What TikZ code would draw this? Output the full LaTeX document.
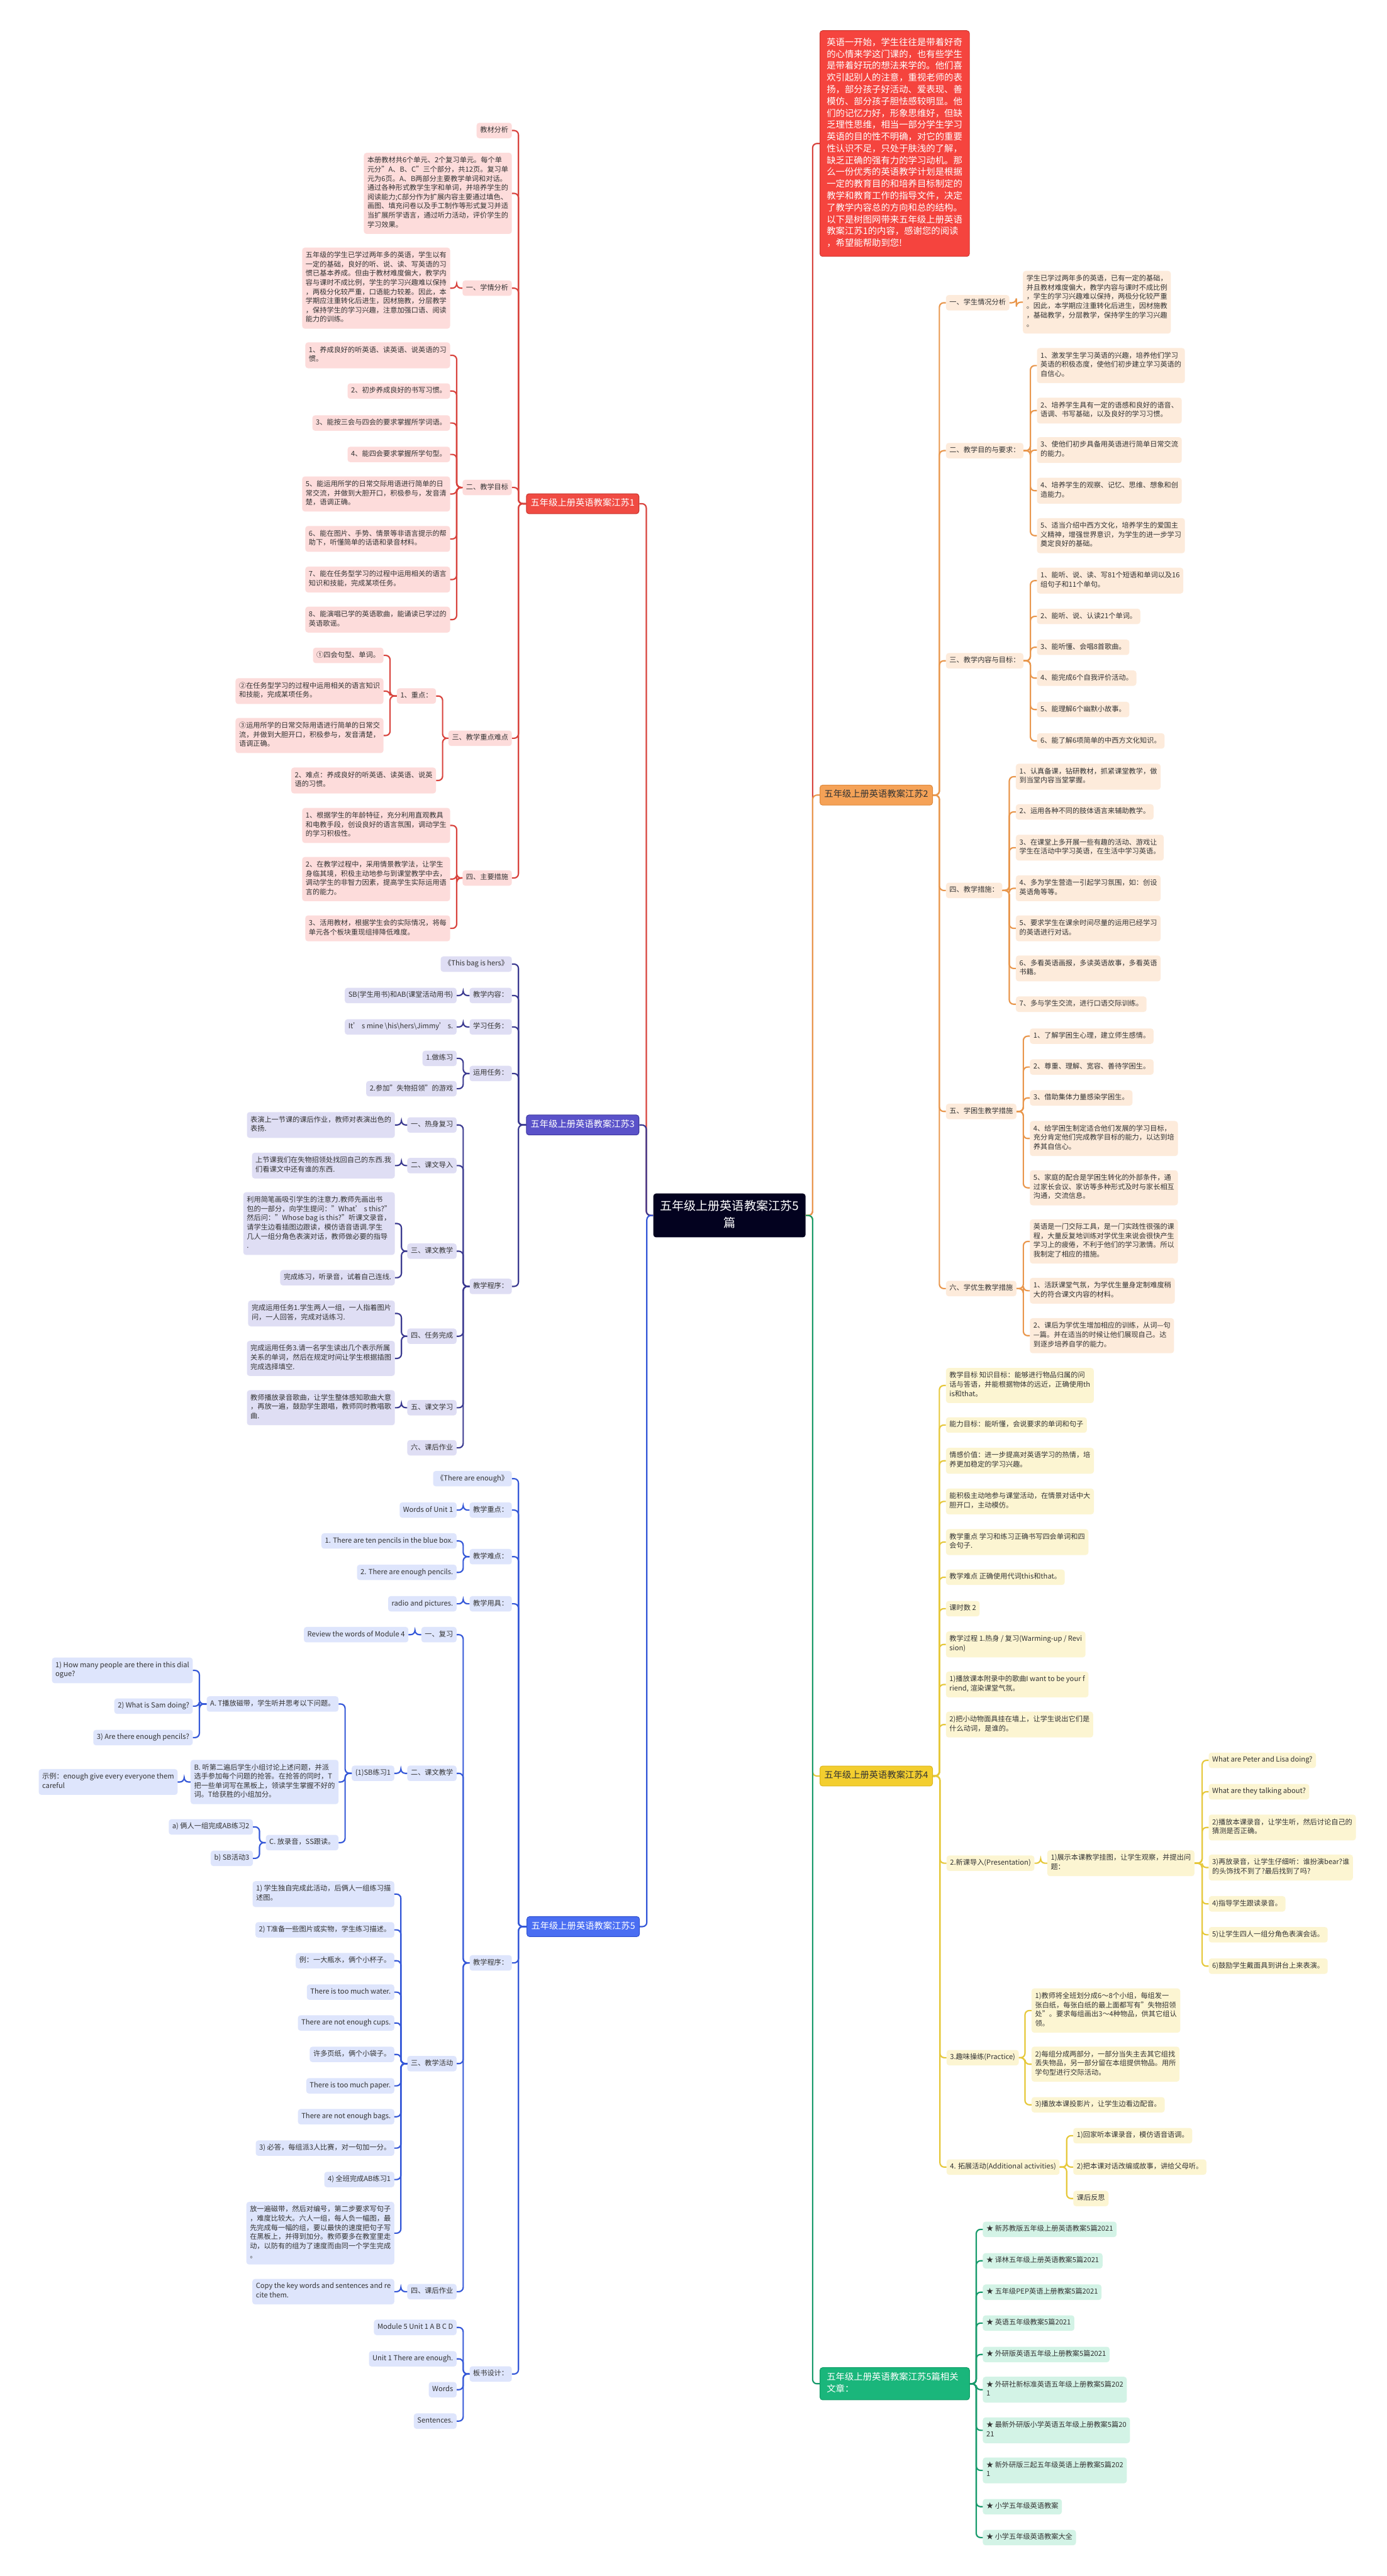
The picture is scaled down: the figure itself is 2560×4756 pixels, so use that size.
\documentclass[tikz,border=0pt]{standalone}
\usepackage{fontspec}
\setmainfont{Noto Sans CJK SC}
\usetikzlibrary{positioning}
\definecolor{hubC}{HTML}{03021F}
\definecolor{ink}{HTML}{333333}
\definecolor{inC}{HTML}{F5443E}
\definecolor{rF}{HTML}{F04B43}
\definecolor{rD}{HTML}{C8352E}
\definecolor{rL}{HTML}{D8433D}
\definecolor{rP}{HTML}{FDDCDB}
\definecolor{pF}{HTML}{5A52C9}
\definecolor{pD}{HTML}{3D36A0}
\definecolor{pL}{HTML}{3A3990}
\definecolor{pP}{HTML}{DFDEF4}
\definecolor{bF}{HTML}{4A6EF2}
\definecolor{bD}{HTML}{3153D0}
\definecolor{bL}{HTML}{3558D8}
\definecolor{bP}{HTML}{DEE5FC}
\definecolor{oF}{HTML}{F5A257}
\definecolor{oD}{HTML}{E08A3C}
\definecolor{oL}{HTML}{E9974D}
\definecolor{oP}{HTML}{FDEBDB}
\definecolor{yF}{HTML}{F3CE2F}
\definecolor{yD}{HTML}{DDB71E}
\definecolor{yL}{HTML}{E6C83A}
\definecolor{yP}{HTML}{FCF5D2}
\definecolor{gF}{HTML}{1AB67B}
\definecolor{gD}{HTML}{139D68}
\definecolor{gL}{HTML}{179A6B}
\definecolor{gP}{HTML}{D3F3E6}
\tikzset{
  leaf/.style={rounded corners=5pt,inner xsep=6.5pt,inner ysep=5.75pt,align=left,
    font=\fontsize{13}{17}\selectfont,text=ink,
    execute at begin node=\strut,execute at end node=\strut},
  tall/.style={inner ysep=7.3pt},
  lfR/.style={leaf,fill=rP}, lfP/.style={leaf,fill=pP}, lfB/.style={leaf,fill=bP},
  lfO/.style={leaf,fill=oP}, lfY/.style={leaf,fill=yP}, lfG/.style={leaf,fill=gP},
  bnode/.style={rounded corners=5pt,inner xsep=8pt,inner ysep=8pt,line width=1.2pt,
    font=\fontsize{16.6}{21}\selectfont,text=white,execute at begin node=\strut},
  hub/.style={rounded corners=5pt,fill=hubC,text=white,text width=258pt,align=center,
    inner xsep=11.5pt,inner ysep=9.8pt,font=\fontsize{22.2}{30.7}\selectfont,
    execute at begin node=\strut,execute at end node=\strut},
  intro/.style={rounded corners=5pt,fill=inC,draw=rD,line width=1pt,text=white,
    text width=251pt,align=left,inner xsep=12.5pt,inner ysep=12.3pt,
    font=\fontsize{16.7}{21.8}\selectfont,
    execute at begin node=\strut,execute at end node=\strut},
  ln/.style={line width=2.5pt,rounded corners=8pt},
}
\begin{document}
\begin{tikzpicture}[x=1pt,y=-1pt]
\useasboundingbox (0,0) rectangle (2560,4756);
\fill[white] (0,0) rectangle (2560,4756);

% centre
\node[hub] (ctr) at (1346.5,2244) {五年级上册英语教案江苏5\\篇};

% ---------------- 江苏1 (left, red)
\node[bnode,fill=rF,draw=rD,anchor=east] (J1) at (1180,930) {五年级上册英语教案江苏1};
\node[lfR,anchor=east] (J1a) at (945,241) {教材分析};
\node[lfR,tall,anchor=east] (J1b) at (945,357) {本册教材共6个单元、2个复习单元。每个单\\元分"A、B、C"三个部分，共12页。复习单\\元为6页。A、B两部分主要教学单词和对话。\\通过各种形式教学生字和单词，并培养学生的\\阅读能力;C部分作为扩展内容主要通过填色、\\画图、填充问卷以及手工制作等形式复习并适\\当扩展所学语言，通过听力活动，评价学生的\\学习效果。};
\node[lfR,anchor=east] (J1c) at (945,532) {一、学情分析};
\node[lfR,tall,anchor=east] (J1c1) at (831,532) {五年级的学生已学过两年多的英语，学生以有\\一定的基础，良好的听、说、读、写英语的习\\惯已基本养成。但由于教材难度偏大，教学内\\容与课时不成比例，学生的学习兴趣难以保持\\，两极分化较严重，口语能力较差。因此，本\\学期应注重转化后进生，因材施教，分层教学\\，保持学生的学习兴趣，注意加强口语、阅读\\能力的训练。};
\node[lfR,anchor=east] (J1d) at (945,900) {二、教学目标};
\node[lfR,tall,anchor=east] (J1d1) at (831,656) {1、养成良好的听英语、读英语、说英语的习\\惯。};
\node[lfR,anchor=east] (J1d2) at (831,722) {2、初步养成良好的书写习惯。};
\node[lfR,anchor=east] (J1d3) at (831,781) {3、能按三会与四会的要求掌握所学词语。};
\node[lfR,anchor=east] (J1d4) at (831,839) {4、能四会要求掌握所学句型。};
\node[lfR,tall,anchor=east] (J1d5) at (831,912) {5、能运用所学的日常交际用语进行简单的日\\常交流，并做到大胆开口，积极参与，发音清\\楚，语调正确。};
\node[lfR,tall,anchor=east] (J1d6) at (831,995) {6、能在图片、手势、情景等非语言提示的帮\\助下，听懂简单的话语和录音材料。};
\node[lfR,tall,anchor=east] (J1d7) at (831,1070) {7、能在任务型学习的过程中运用相关的语言\\知识和技能，完成某项任务。};
\node[lfR,tall,anchor=east] (J1d8) at (831,1144) {8、能演唱已学的英语歌曲，能诵读已学过的\\英语歌谣。};
\node[lfR,anchor=east] (J1e) at (945,1363) {三、教学重点难点};
\node[lfR,anchor=east] (J1e1) at (805,1285) {1、重点：};
\node[lfR,anchor=east] (J1e1a) at (708,1210) {①四会句型、单词。};
\node[lfR,tall,anchor=east] (J1e1b) at (708,1276) {②在任务型学习的过程中运用相关的语言知识\\和技能，完成某项任务。};
\node[lfR,tall,anchor=east] (J1e1c) at (708,1358) {③运用所学的日常交际用语进行简单的日常交\\流，并做到大胆开口，积极参与，发音清楚，\\语调正确。};
\node[lfR,tall,anchor=east] (J1e2) at (805,1441) {2、难点：养成良好的听英语、读英语、说英\\语的习惯。};
\node[lfR,anchor=east] (J1f) at (945,1621) {四、主要措施};
\node[lfR,tall,anchor=east] (J1f1) at (831,1524) {1、根据学生的年龄特征，充分利用直观教具\\和电教手段，创设良好的语言氛围，调动学生\\的学习积极性。};
\node[lfR,tall,anchor=east] (J1f2) at (831,1623) {2、在教学过程中，采用情景教学法，让学生\\身临其境，积极主动地参与到课堂教学中去，\\调动学生的非智力因素，提高学生实际运用语\\言的能力。};
\node[lfR,tall,anchor=east] (J1f3) at (831,1714) {3、活用教材，根据学生会的实际情况，将每\\单元各个板块重现组排降低难度。};

% ---------------- 江苏3 (left, purple)
\node[bnode,fill=pF,draw=pD,anchor=east] (J3) at (1180,2077) {五年级上册英语教案江苏3};
\node[lfP,anchor=east] (J3a) at (945,1780) {《This bag is hers》};
\node[lfP,anchor=east] (J3b) at (945,1838) {教学内容：};
\node[lfP,anchor=east] (J3b1) at (843,1838) {SB(学生用书)和AB(课堂活动用书)};
\node[lfP,anchor=east] (J3c) at (945,1896) {学习任务：};
\node[lfP,anchor=east] (J3c1) at (843,1896) {It’ s mine \textbackslash his\textbackslash hers\textbackslash Jimmy’ s.};
\node[lfP,anchor=east] (J3d) at (945,1982) {运用任务：};
\node[lfP,anchor=east] (J3d1) at (843,1954) {1.做练习};
\node[lfP,anchor=east] (J3d2) at (843,2010) {2.参加"失物招领"的游戏};
\node[lfP,anchor=east] (J3e) at (945,2375) {教学程序：};
\node[lfP,anchor=east] (J3e1) at (843,2077) {一、热身复习};
\node[lfP,tall,anchor=east] (J3e1a) at (729,2077) {表演上一节课的课后作业，教师对表演出色的\\表扬.};
\node[lfP,anchor=east] (J3e2) at (843,2152) {二、课文导入};
\node[lfP,tall,anchor=east] (J3e2a) at (729,2152) {上节课我们在失物招领处找回自己的东西.我\\们看课文中还有谁的东西.};
\node[lfP,anchor=east] (J3e3) at (843,2310) {三、课文教学};
\node[lfP,tall,anchor=east] (J3e3a) at (729,2259) {利用简笔画吸引学生的注意力.教师先画出书\\包的一部分，向学生提问："What’ s this?"\\然后问："Whose bag is this?"听课文录音，\\请学生边看插图边跟读，模仿语音语调.学生\\几人一组分角色表演对话，教师做必要的指导\\.};
\node[lfP,anchor=east] (J3e3b) at (729,2359) {完成练习，听录音，试着自己连线.};
\node[lfP,anchor=east] (J3e4) at (843,2467) {四、任务完成};
\node[lfP,tall,anchor=east] (J3e4a) at (729,2425) {完成运用任务1.学生两人一组，一人指着图片\\问，一人回答，完成对话练习.};
\node[lfP,tall,anchor=east] (J3e4b) at (729,2508) {完成运用任务3.请一名学生读出几个表示所属\\关系的单词，然后在规定时间让学生根据插图\\完成选择填空.};
\node[lfP,anchor=east] (J3e5) at (843,2599) {五、课文学习};
\node[lfP,tall,anchor=east] (J3e5a) at (729,2599) {教师播放录音歌曲，让学生整体感知歌曲大意\\，再放一遍，鼓励学生跟唱，教师同时教唱歌\\曲.};
\node[lfP,anchor=east] (J3e6) at (843,2673) {六、课后作业};

% ---------------- 江苏5 (left, blue)
\node[bnode,fill=bF,draw=bD,anchor=east] (J5) at (1181,3557) {五年级上册英语教案江苏5};
\node[lfB,anchor=east] (J5a) at (945,2730) {《There are enough》};
\node[lfB,anchor=east] (J5b) at (945,2788) {教学重点：};
\node[lfB,anchor=east] (J5b1) at (843,2788) {Words of Unit 1};
\node[lfB,anchor=east] (J5c) at (945,2874) {教学难点：};
\node[lfB,anchor=east] (J5c1) at (843,2845) {1. There are ten pencils in the blue box.};
\node[lfB,anchor=east] (J5c2) at (843,2903) {2. There are enough pencils.};
\node[lfB,anchor=east] (J5d) at (945,2961) {教学用具：};
\node[lfB,anchor=east] (J5d1) at (843,2961) {radio and pictures.};
\node[lfB,anchor=east] (J5e) at (945,3624) {教学程序：};
\node[lfB,anchor=east] (J5e1) at (843,3018) {一、复习};
\node[lfB,anchor=east] (J5e1a) at (754,3018) {Review the words of Module 4};
\node[lfB,anchor=east] (J5e2) at (843,3274) {二、课文教学};
\node[lfB,anchor=east] (J5e2a) at (728,3274) {(1)SB练习1};
\node[lfB,anchor=east] (J5eA) at (625,3146) {A. T播放磁带，学生听并思考以下问题。};
\node[lfB,tall,anchor=east] (J5eA1) at (356,3084) {1) How many people are there in this dial\\ogue?};
\node[lfB,anchor=east] (J5eA2) at (356,3150) {2) What is Sam doing?};
\node[lfB,anchor=east] (J5eA3) at (356,3208) {3) Are there enough pencils?};
\node[lfB,tall,anchor=east] (J5eB) at (625,3290) {B. 听第二遍后学生小组讨论上述问题，并派\\选手参加每个问题的抢答。在抢答的同时，T\\把一些单词写在黑板上，领读学生掌握不好的\\词。T给获胜的小组加分。};
\node[lfB,tall,anchor=east] (J5eB1) at (328,3290) {示例：enough give every everyone them\\careful};
\node[lfB,anchor=east] (J5eC) at (625,3402) {C. 放录音，SS跟读。};
\node[lfB,anchor=east] (J5eC1) at (467,3373) {a) 俩人一组完成AB练习2};
\node[lfB,anchor=east] (J5eC2) at (467,3431) {b) SB活动3};
\node[lfB,anchor=east] (J5e3) at (843,3810) {三、教学活动};
\node[lfB,tall,anchor=east] (J5e3a) at (728,3497) {1) 学生独自完成此活动，后俩人一组练习描\\述图。};
\node[lfB,anchor=east] (J5e3b) at (728,3563) {2) T准备一些图片或实物，学生练习描述。};
\node[lfB,anchor=east] (J5e3c) at (728,3620) {例：一大瓶水，俩个小杯子。};
\node[lfB,anchor=east] (J5e3d) at (728,3678) {There is too much water.};
\node[lfB,anchor=east] (J5e3e) at (728,3735) {There are not enough cups.};
\node[lfB,anchor=east] (J5e3f) at (728,3793) {许多页纸，俩个小袋子。};
\node[lfB,anchor=east] (J5e3g) at (728,3851) {There is too much paper.};
\node[lfB,anchor=east] (J5e3h) at (728,3908) {There are not enough bags.};
\node[lfB,anchor=east] (J5e3i) at (728,3966) {3) 必答，每组派3人比赛，对一句加一分。};
\node[lfB,anchor=east] (J5e3j) at (728,4024) {4) 全班完成AB练习1};
\node[lfB,tall,anchor=east] (J5e3k) at (728,4123) {放一遍磁带，然后对编号，第二步要求写句子\\，难度比较大。六人一组，每人负一幅图，最\\先完成每一幅的组，要以最快的速度把句子写\\在黑板上，并得到加分。教师要多在教室里走\\动，以防有的组为了速度而由同一个学生完成\\。};
\node[lfB,anchor=east] (J5e4) at (843,4231) {四、课后作业};
\node[lfB,tall,anchor=east] (J5e4a) at (728,4231) {Copy the key words and sentences and re\\cite them.};
\node[lfB,anchor=east] (J5f) at (945,4383) {板书设计：};
\node[lfB,anchor=east] (J5f1) at (843,4297) {Module 5 Unit 1 A B C D};
\node[lfB,anchor=east] (J5f2) at (843,4355) {Unit 1 There are enough.};
\node[lfB,anchor=east] (J5f3) at (843,4412) {Words};
\node[lfB,anchor=east] (J5f4) at (843,4470) {Sentences.};

% ---------------- intro (right, red)
\node[intro,anchor=west] (IN) at (1513,265) {英语一开始，学生往往是带着好奇\\的心情来学这门课的，也有些学生\\是带着好玩的想法来学的。他们喜\\欢引起别人的注意，重视老师的表\\扬，部分孩子好活动、爱表现、善\\模仿、部分孩子胆怯感较明显。他\\们的记忆力好，形象思维好，但缺\\乏理性思维，相当一部分学生学习\\英语的目的性不明确，对它的重要\\性认识不足，只处于肤浅的了解，\\缺乏正确的强有力的学习动机。那\\么一份优秀的英语教学计划是根据\\一定的教育目的和培养目标制定的\\教学和教育工作的指导文件，决定\\了教学内容总的方向和总的结构。\\以下是树图网带来五年级上册英语\\教案江苏1的内容，感谢您的阅读\\，希望能帮助到您!};

% ---------------- 江苏2 (right, orange)
\node[bnode,fill=oF,draw=oD,text=ink,anchor=west] (J2) at (1513,1468) {五年级上册英语教案江苏2};
\node[lfO,anchor=west] (J2a) at (1746,559) {一、学生情况分析};
\node[lfO,tall,anchor=west] (J2a1) at (1888,558) {学生已学过两年多的英语，已有一定的基础，\\并且教材难度偏大，教学内容与课时不成比例\\，学生的学习兴趣难以保持，两极分化较严重\\。因此，本学期应注重转化后进生，因材施教\\，基础教学，分层教学，保持学生的学习兴趣\\。};
\node[lfO,anchor=west] (J2b) at (1746,832) {二、教学目的与要求：};
\node[lfO,tall,anchor=west] (J2b1) at (1914,675) {1、激发学生学习英语的兴趣，培养他们学习\\英语的积极态度，使他们初步建立学习英语的\\自信心。};
\node[lfO,tall,anchor=west] (J2b2) at (1914,758) {2、培养学生具有一定的语感和良好的语音、\\语调、书写基础，以及良好的学习习惯。};
\node[lfO,tall,anchor=west] (J2b3) at (1914,831) {3、使他们初步具备用英语进行简单日常交流\\的能力。};
\node[lfO,tall,anchor=west] (J2b4) at (1914,906) {4、培养学生的观察、记忆、思维、想象和创\\造能力。};
\node[lfO,tall,anchor=west] (J2b5) at (1914,989) {5、适当介绍中西方文化，培养学生的爱国主\\义精神，增强世界意识，为学生的进一步学习\\奠定良好的基础。};
\node[lfO,anchor=west] (J2c) at (1746,1220) {三、教学内容与目标：};
\node[lfO,tall,anchor=west] (J2c1) at (1914,1072) {1、能听、说、读、写81个短语和单词以及16\\组句子和11个单句。};
\node[lfO,anchor=west] (J2c2) at (1914,1138) {2、能听、说、认读21个单词。};
\node[lfO,anchor=west] (J2c3) at (1914,1195) {3、能听懂、会唱8首歌曲。};
\node[lfO,anchor=west] (J2c4) at (1914,1252) {4、能完成6个自我评价活动。};
\node[lfO,anchor=west] (J2c5) at (1914,1310) {5、能理解6个幽默小故事。};
\node[lfO,anchor=west] (J2c6) at (1914,1368) {6、能了解6项简单的中西方文化知识。};
\node[lfO,anchor=west] (J2d) at (1746,1644) {四、教学措施：};
\node[lfO,tall,anchor=west] (J2d1) at (1875,1434) {1、认真备课，钻研教材，抓紧课堂教学，做\\到当堂内容当堂掌握。};
\node[lfO,anchor=west] (J2d2) at (1875,1499) {2、运用各种不同的肢体语言来辅助教学。};
\node[lfO,tall,anchor=west] (J2d3) at (1875,1565) {3、在课堂上多开展一些有趣的活动、游戏让\\学生在活动中学习英语，在生活中学习英语。};
\node[lfO,tall,anchor=west] (J2d4) at (1875,1640) {4、多为学生营造一引起学习氛围，如：创设\\英语角等等。};
\node[lfO,tall,anchor=west] (J2d5) at (1875,1714) {5、要求学生在课余时间尽量的运用已经学习\\的英语进行对话。};
\node[lfO,tall,anchor=west] (J2d6) at (1875,1788) {6、多看英语画报，多读英语故事，多看英语\\书籍。};
\node[lfO,anchor=west] (J2d7) at (1875,1854) {7、多与学生交流，进行口语交际训练。};
\node[lfO,anchor=west] (J2e) at (1746,2052) {五、学困生教学措施};
\node[lfO,anchor=west] (J2e1) at (1901,1913) {1、了解学困生心理，建立师生感情。};
\node[lfO,anchor=west] (J2e2) at (1901,1970) {2、尊重、理解、宽容、善待学困生。};
\node[lfO,anchor=west] (J2e3) at (1901,2027) {3、借助集体力量感染学困生。};
\node[lfO,tall,anchor=west] (J2e4) at (1901,2102) {4、给学困生制定适合他们发展的学习目标，\\充分肯定他们完成教学目标的能力，以达到培\\养其自信心。};
\node[lfO,tall,anchor=west] (J2e5) at (1901,2193) {5、家庭的配合是学困生转化的外部条件，通\\过家长会议、家访等多种形式及时与家长相互\\沟通，交流信息。};
\node[lfO,anchor=west] (J2f) at (1746,2379) {六、学优生教学措施};
\node[lfO,tall,anchor=west] (J2f1) at (1901,2292) {英语是一门交际工具，是一门实践性很强的课\\程，大量反复地训练对学优生来说会很快产生\\学习上的疲倦，不利于他们的学习激情。所以\\我制定了相应的措施。};
\node[lfO,tall,anchor=west] (J2f2) at (1901,2383) {1、活跃课堂气氛，为学优生量身定制难度稍\\大的符合课文内容的材料。};
\node[lfO,tall,anchor=west] (J2f3) at (1901,2466) {2、课后为学优生增加相应的训练，从词—句\\—篇。并在适当的时候让他们展现自己。达\\到逐步培养自学的能力。};

% ---------------- 江苏4 (right, yellow)
\node[bnode,fill=yF,draw=yD,text=ink,anchor=west] (J4) at (1513,3279) {五年级上册英语教案江苏4};
\node[lfY,tall,anchor=west] (J4a) at (1746,2558) {教学目标 知识目标：能够进行物品归属的问\\话与答语，并能根据物体的远近，正确使用th\\is和that。};
\node[lfY,anchor=west] (J4b) at (1746,2631) {能力目标：能听懂，会说要求的单词和句子};
\node[lfY,tall,anchor=west] (J4c) at (1746,2697) {情感价值：进一步提高对英语学习的热情，培\\养更加稳定的学习兴趣。};
\node[lfY,tall,anchor=west] (J4d) at (1746,2772) {能积极主动地参与课堂活动，在情景对话中大\\胆开口，主动模仿。};
\node[lfY,tall,anchor=west] (J4e) at (1746,2847) {教学重点 学习和练习正确书写四会单词和四\\会句子.};
\node[lfY,anchor=west] (J4f) at (1746,2912) {教学难点 正确使用代词this和that。};
\node[lfY,anchor=west] (J4g) at (1746,2970) {课时数 2};
\node[lfY,tall,anchor=west] (J4h) at (1746,3036) {教学过程 1.热身 / 复习(Warming-up / Revi\\sion)};
\node[lfY,tall,anchor=west] (J4i) at (1746,3110) {1)播放课本附录中的歌曲I want to be your f\\riend, 渲染课堂气氛。};
\node[lfY,tall,anchor=west] (J4j) at (1746,3184) {2)把小动物面具挂在墙上，让学生说出它们是\\什么动词，是谁的。};
\node[lfY,anchor=west] (J4k) at (1747,3440) {2.新课导入(Presentation)};
\node[lfY,tall,anchor=west] (J4k1) at (1933,3440) {1)展示本课教学挂图，让学生观察，并提出问\\题：};
\node[lfY,anchor=west] (J4k1a) at (2231,3250) {What are Peter and Lisa doing?};
\node[lfY,anchor=west] (J4k1b) at (2231,3308) {What are they talking about?};
\node[lfY,tall,anchor=west] (J4k1c) at (2231,3374) {2)播放本课录音，让学生听，然后讨论自己的\\猜测是否正确。};
\node[lfY,tall,anchor=west] (J4k1d) at (2231,3448) {3)再放录音，让学生仔细听：谁扮演bear?谁\\的头饰找不到了?最后找到了吗?};
\node[lfY,anchor=west] (J4k1e) at (2231,3515) {4)指导学生跟读录音。};
\node[lfY,anchor=west] (J4k1f) at (2231,3572) {5)让学生四人一组分角色表演会话。};
\node[lfY,anchor=west] (J4k1g) at (2231,3630) {6)鼓励学生戴面具到讲台上来表演。};
\node[lfY,anchor=west] (J4l) at (1747,3799) {3.趣味操练(Practice)};
\node[lfY,tall,anchor=west] (J4l1) at (1904,3712) {1)教师将全班划分成6～8个小组，每组发一\\张白纸，每张白纸的最上面都写有"失物招领\\处"。要求每组画出3～4种物品，供其它组认\\领。};
\node[lfY,tall,anchor=west] (J4l2) at (1904,3811) {2)每组分成两部分，一部分当失主去其它组找\\丢失物品，另一部分留在本组提供物品。用所\\学句型进行交际活动。};
\node[lfY,anchor=west] (J4l3) at (1904,3886) {3)播放本课投影片，让学生边看边配音。};
\node[lfY,anchor=west] (J4m) at (1747,4001) {4. 拓展活动(Additional activities)};
\node[lfY,anchor=west] (J4m1) at (1981,3943) {1)回家听本课录音，模仿语音语调。};
\node[lfY,anchor=west] (J4m2) at (1981,4001) {2)把本课对话改编或故事，讲给父母听。};
\node[lfY,anchor=west] (J4m3) at (1981,4059) {课后反思};

% ---------------- related articles (right, green)
\node[bnode,fill=gF,draw=gD,text width=251pt,align=left,inner xsep=12.5pt,
  font=\fontsize{16.7}{21.8}\selectfont,execute at end node=\strut,anchor=west] (JR)
  at (1513,4401) {五年级上册英语教案江苏5篇相关\\文章：};
\node[lfG,anchor=west] (JR1) at (1814,4116) {★ 新苏教版五年级上册英语教案5篇2021};
\node[lfG,anchor=west] (JR2) at (1814,4174) {★ 译林五年级上册英语教案5篇2021};
\node[lfG,anchor=west] (JR3) at (1814,4232) {★ 五年级PEP英语上册教案5篇2021};
\node[lfG,anchor=west] (JR4) at (1814,4289) {★ 英语五年级教案5篇2021};
\node[lfG,anchor=west] (JR5) at (1814,4347) {★ 外研版英语五年级上册教案5篇2021};
\node[lfG,tall,anchor=west] (JR6) at (1814,4412) {★ 外研社新标准英语五年级上册教案5篇202\\1};
\node[lfG,tall,anchor=west] (JR7) at (1814,4487) {★ 最新外研版小学英语五年级上册教案5篇20\\21};
\node[lfG,tall,anchor=west] (JR8) at (1814,4561) {★ 新外研版三起五年级英语上册教案5篇202\\1};
\node[lfG,anchor=west] (JR9) at (1814,4628) {★ 小学五年级英语教案};
\node[lfG,anchor=west] (JR10) at (1814,4685) {★ 小学五年级英语教案大全};

% connectors: left side, child east -> parent west
\foreach \ch in {J1a,J1b,J1c,J1d,J1e,J1f} \draw[ln,rL] (\ch.east) -- ++(12,0) |- (J1.west);
\draw[ln,rL] (J1c1.east) -- ++(12,0) |- (J1c.west);
\foreach \ch in {J1d1,J1d2,J1d3,J1d4,J1d5,J1d6,J1d7,J1d8} \draw[ln,rL] (\ch.east) -- ++(12,0) |- (J1d.west);
\foreach \ch in {J1e1,J1e2} \draw[ln,rL] (\ch.east) -- ++(12,0) |- (J1e.west);
\foreach \ch in {J1e1a,J1e1b,J1e1c} \draw[ln,rL] (\ch.east) -- ++(12,0) |- (J1e1.west);
\foreach \ch in {J1f1,J1f2,J1f3} \draw[ln,rL] (\ch.east) -- ++(12,0) |- (J1f.west);

\foreach \ch in {J3a,J3b,J3c,J3d,J3e} \draw[ln,pL] (\ch.east) -- ++(12,0) |- (J3.west);
\draw[ln,pL] (J3b1.east) -- ++(12,0) |- (J3b.west);
\draw[ln,pL] (J3c1.east) -- ++(12,0) |- (J3c.west);
\foreach \ch in {J3d1,J3d2} \draw[ln,pL] (\ch.east) -- ++(12,0) |- (J3d.west);
\foreach \ch in {J3e1,J3e2,J3e3,J3e4,J3e5,J3e6} \draw[ln,pL] (\ch.east) -- ++(12,0) |- (J3e.west);
\draw[ln,pL] (J3e1a.east) -- ++(12,0) |- (J3e1.west);
\draw[ln,pL] (J3e2a.east) -- ++(12,0) |- (J3e2.west);
\foreach \ch in {J3e3a,J3e3b} \draw[ln,pL] (\ch.east) -- ++(12,0) |- (J3e3.west);
\foreach \ch in {J3e4a,J3e4b} \draw[ln,pL] (\ch.east) -- ++(12,0) |- (J3e4.west);
\draw[ln,pL] (J3e5a.east) -- ++(12,0) |- (J3e5.west);

\foreach \ch in {J5a,J5b,J5c,J5d,J5e,J5f} \draw[ln,bL] (\ch.east) -- ++(12,0) |- (J5.west);
\draw[ln,bL] (J5b1.east) -- ++(12,0) |- (J5b.west);
\foreach \ch in {J5c1,J5c2} \draw[ln,bL] (\ch.east) -- ++(12,0) |- (J5c.west);
\draw[ln,bL] (J5d1.east) -- ++(12,0) |- (J5d.west);
\foreach \ch in {J5e1,J5e2,J5e3,J5e4} \draw[ln,bL] (\ch.east) -- ++(12,0) |- (J5e.west);
\draw[ln,bL] (J5e1a.east) -- ++(12,0) |- (J5e1.west);
\draw[ln,bL] (J5e2a.east) -- ++(12,0) |- (J5e2.west);
\foreach \ch in {J5eA,J5eB,J5eC} \draw[ln,bL] (\ch.east) -- ++(12,0) |- (J5e2a.west);
\foreach \ch in {J5eA1,J5eA2,J5eA3} \draw[ln,bL] (\ch.east) -- ++(12,0) |- (J5eA.west);
\draw[ln,bL] (J5eB1.east) -- ++(12,0) |- (J5eB.west);
\foreach \ch in {J5eC1,J5eC2} \draw[ln,bL] (\ch.east) -- ++(12,0) |- (J5eC.west);
\foreach \ch in {J5e3a,J5e3b,J5e3c,J5e3d,J5e3e,J5e3f,J5e3g,J5e3h,J5e3i,J5e3j,J5e3k}
  \draw[ln,bL] (\ch.east) -- ++(12,0) |- (J5e3.west);
\draw[ln,bL] (J5e4a.east) -- ++(12,0) |- (J5e4.west);
\foreach \ch in {J5f1,J5f2,J5f3,J5f4} \draw[ln,bL] (\ch.east) -- ++(12,0) |- (J5f.west);

% connectors: right side, child west -> parent east
\foreach \ch in {J2a,J2b,J2c,J2d,J2e,J2f} \draw[ln,oL] (\ch.west) -- ++(-12,0) |- (J2.east);
\draw[ln,oL] (J2a1.west) -- ++(-12,0) |- (J2a.east);
\foreach \ch in {J2b1,J2b2,J2b3,J2b4,J2b5} \draw[ln,oL] (\ch.west) -- ++(-12,0) |- (J2b.east);
\foreach \ch in {J2c1,J2c2,J2c3,J2c4,J2c5,J2c6} \draw[ln,oL] (\ch.west) -- ++(-12,0) |- (J2c.east);
\foreach \ch in {J2d1,J2d2,J2d3,J2d4,J2d5,J2d6,J2d7} \draw[ln,oL] (\ch.west) -- ++(-12,0) |- (J2d.east);
\foreach \ch in {J2e1,J2e2,J2e3,J2e4,J2e5} \draw[ln,oL] (\ch.west) -- ++(-12,0) |- (J2e.east);
\foreach \ch in {J2f1,J2f2,J2f3} \draw[ln,oL] (\ch.west) -- ++(-12,0) |- (J2f.east);

\foreach \ch in {J4a,J4b,J4c,J4d,J4e,J4f,J4g,J4h,J4i,J4j,J4k,J4l,J4m}
  \draw[ln,yL] (\ch.west) -- ++(-12,0) |- (J4.east);
\draw[ln,yL] (J4k1.west) -- ++(-12,0) |- (J4k.east);
\foreach \ch in {J4k1a,J4k1b,J4k1c,J4k1d,J4k1e,J4k1f,J4k1g} \draw[ln,yL] (\ch.west) -- ++(-12,0) |- (J4k1.east);
\foreach \ch in {J4l1,J4l2,J4l3} \draw[ln,yL] (\ch.west) -- ++(-12,0) |- (J4l.east);
\foreach \ch in {J4m1,J4m2,J4m3} \draw[ln,yL] (\ch.west) -- ++(-12,0) |- (J4m.east);

\foreach \ch in {JR1,JR2,JR3,JR4,JR5,JR6,JR7,JR8,JR9,JR10} \draw[ln,gL] (\ch.west) -- ++(-12,0) |- (JR.east);

% main branches from the centre
\draw[ln,rL] (J1.east) -- ++(13,0) |- (ctr.west);
\draw[ln,pL] (J3.east) -- ++(13,0) |- (ctr.west);
\draw[ln,bL] (J5.east) -- ++(13,0) |- (ctr.west);
\draw[ln,rL] (IN.west) -- ++(-13,0) |- (ctr.east);
\draw[ln,oL] (J2.west) -- ++(-13,0) |- (ctr.east);
\draw[ln,yL] (J4.west) -- ++(-13,0) |- (ctr.east);
\draw[ln,gL] (JR.west) -- ++(-13,0) |- (ctr.east);
\end{tikzpicture}
\end{document}
